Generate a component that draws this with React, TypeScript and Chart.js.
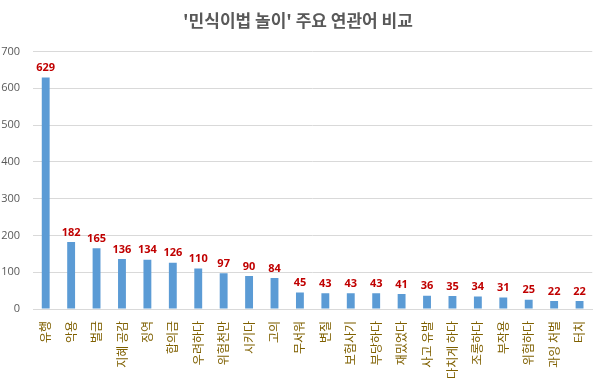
import React, { useEffect, useRef } from "react";
import { Chart, registerables } from "chart.js";

Chart.register(...registerables);

const titleText = "'민식이법 놀이' 주요 연관어 비교";
const categories = [
  "유행", "악용", "벌금", "지혜 공감", "징역", "합의금", "우려하다", "위험천만", "시키다", "고의",
  "무서워", "변질", "보험사기", "부당하다", "재밌었다", "사고 유발", "다치게 하다", "조롱하다", "부작용", "위험하다",
  "과잉 처벌", "터치",
];
const values = [629, 182, 165, 136, 134, 126, 110, 97, 90, 84, 45, 43, 43, 43, 41, 36, 35, 34, 31, 25, 22, 22];
const yTicks = [0, 100, 200, 300, 400, 500, 600, 700];

const FONT = '"Noto Sans CJK KR", "Open Sans", sans-serif';

const dataLabelPlugin = {
  id: "dataLabels",
  afterDatasetsDraw(chart: any) {
    const ctx = chart.ctx;
    const meta = chart.getDatasetMeta(0);
    ctx.save();
    ctx.fillStyle = "#C00000";
    ctx.font = `bold 11px "Open Sans", ${FONT}`;
    ctx.textAlign = "center";
    ctx.textBaseline = "bottom";
    meta.data.forEach((bar: any, i: number) => {
      ctx.fillText(String(values[i]), bar.x, bar.y - 4);
    });
    ctx.restore();
  },
};

export default function App() {
  const ref = useRef<HTMLCanvasElement | null>(null);
  useEffect(() => {
    if (!ref.current) return;
    const chart = new Chart(ref.current, {
      type: "bar",
      data: {
        labels: categories,
        datasets: [
          {
            data: values,
            backgroundColor: "#5B9BD5",
            barPercentage: 0.31,
            categoryPercentage: 1,
          },
        ],
      },
      options: {
        animation: false,
        responsive: false,
        maintainAspectRatio: false,
        layout: { padding: { left: 0, right: 2, top: 0, bottom: 0 } },
        plugins: {
          legend: { display: false },
          tooltip: { enabled: false },
          title: {
            display: true,
            text: titleText,
            color: "#595959",
            font: { family: FONT, size: 17, weight: "bold" },
            padding: { top: 10, bottom: 21 },
          },
        },
        scales: {
          x: {
            grid: { display: false },
            border: { display: true, color: "#D9D9D9" },
            ticks: {
              color: "#7F6000",
              font: { family: FONT, size: 12 },
              minRotation: 90,
              maxRotation: 90,
              autoSkip: false,
              padding: 4,
            },
            afterFit(scale: any) {
              scale.height = 75;
            },
          },
          y: {
            min: 0,
            max: 700,
            grid: { color: "#D9D9D9", drawTicks: false },
            border: { display: false },
            afterBuildTicks(scale: any) {
              scale.ticks = yTicks.map((v) => ({ value: v }));
            },
            ticks: {
              color: "#595959",
              font: { family: '"Open Sans", sans-serif', size: 11 },
              padding: 13,
            },
            afterFit(scale: any) {
              scale.width = 33;
            },
          },
        },
      },
      plugins: [dataLabelPlugin],
    });
    return () => chart.destroy();
  }, []);
  return (
    <div style={{ position: "fixed", left: 0, top: 0, width: 598, height: 384, background: "#fff" }}>
      <canvas ref={ref} width={598} height={384} style={{ width: 598, height: 384 }} />
    </div>
  );
}
